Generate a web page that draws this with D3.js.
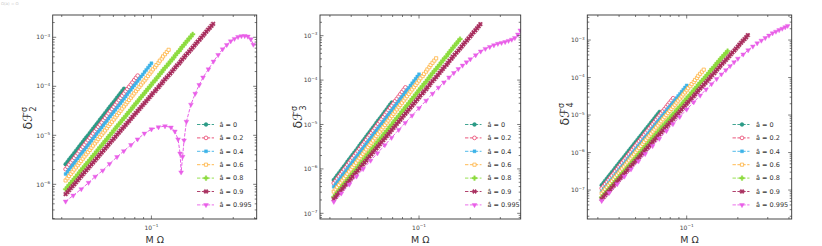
<!DOCTYPE html>
<html>
<head>
<meta charset="utf-8">
<script src="https://cdn.jsdelivr.net/npm/d3@7"></script>
<style>
  body { margin: 0; background: #fff; }
  svg { display: block; }
  text { font-family: "DejaVu Sans", sans-serif; }
</style>
</head>
<body>
<svg id="chart" width="822" height="246"></svg>
<script>
// spin values, one series per spin in every panel
const spinLabels = ["0", "0.2", "0.4", "0.6", "0.8", "0.9", "0.995"];

// M*Omega samples shared by the straight series (each uses the first n values)
const omegaGrid = [0.0316, 0.0324, 0.0331, 0.0339, 0.0347, 0.0355, 0.0363, 0.0372, 0.0380, 0.0389,
  0.0398, 0.0407, 0.0417, 0.0427, 0.0437, 0.0447, 0.0457, 0.0468, 0.0479, 0.0490,
  0.0501, 0.0513, 0.0525, 0.0537, 0.0550, 0.0562, 0.0575, 0.0589, 0.0603, 0.0617,
  0.0631, 0.0646, 0.0661, 0.0676, 0.0692, 0.0708, 0.0724, 0.0741, 0.0759, 0.0776,
  0.0794, 0.0813, 0.0832, 0.0851, 0.0871, 0.0891, 0.0912, 0.0933, 0.0955, 0.0977,
  0.100, 0.102, 0.105, 0.107, 0.110, 0.112, 0.115, 0.117, 0.120, 0.123,
  0.126, 0.129, 0.132, 0.135, 0.138, 0.141, 0.145, 0.148, 0.151, 0.155,
  0.158, 0.162, 0.166, 0.170, 0.174, 0.178, 0.182, 0.186, 0.191, 0.195,
  0.200, 0.204, 0.209, 0.214, 0.219, 0.224, 0.229];

// M*Omega samples of the a = 0.995 curves
const omega995 = [0.0316, 0.035, 0.039, 0.043, 0.047, 0.052, 0.057, 0.063, 0.069, 0.076, 0.083, 0.091,
  0.10, 0.11, 0.12, 0.13, 0.14, 0.15, 0.16, 0.17, 0.18, 0.19, 0.20, 0.215, 0.23, 0.245,
  0.26, 0.275, 0.29, 0.305, 0.32, 0.335, 0.35, 0.365, 0.38, 0.393];
const omega995F2 = [0.0316, 0.035, 0.039, 0.043, 0.047, 0.052, 0.057, 0.063, 0.069, 0.076, 0.083, 0.091,
  0.10, 0.11, 0.12, 0.13, 0.137, 0.143, 0.147, 0.149, 0.152, 0.155, 0.16, 0.17, 0.18, 0.19,
  0.20, 0.215, 0.23, 0.245, 0.26, 0.275, 0.29, 0.305, 0.32, 0.335, 0.35, 0.365, 0.38, 0.393];

// delta F_2^sigma
const dF2_a0 = [2.57e-6, 2.85e-6, 3.17e-6, 3.52e-6, 3.90e-6, 4.33e-6, 4.81e-6, 5.34e-6, 5.92e-6, 6.57e-6, 7.29e-6, 8.09e-6, 8.99e-6, 9.98e-6, 1.11e-5, 1.23e-5, 1.36e-5, 1.51e-5, 1.68e-5, 1.86e-5, 2.07e-5, 2.30e-5, 2.55e-5, 2.83e-5, 3.14e-5, 3.49e-5, 3.87e-5, 4.30e-5, 4.76e-5, 5.28e-5, 5.87e-5, 6.52e-5, 7.24e-5, 8.04e-5, 8.91e-5];
const dF2_a02 = [2.04e-6, 2.26e-6, 2.52e-6, 2.80e-6, 3.10e-6, 3.44e-6, 3.82e-6, 4.24e-6, 4.71e-6, 5.23e-6, 5.81e-6, 6.45e-6, 7.16e-6, 7.95e-6, 8.83e-6, 9.80e-6, 1.09e-5, 1.21e-5, 1.34e-5, 1.49e-5, 1.65e-5, 1.83e-5, 2.04e-5, 2.26e-5, 2.51e-5, 2.79e-5, 3.09e-5, 3.43e-5, 3.81e-5, 4.23e-5, 4.70e-5, 5.22e-5, 5.79e-5, 6.43e-5, 7.14e-5, 7.93e-5, 8.79e-5, 9.76e-5, 1.08e-4, 1.20e-4, 1.34e-4, 1.49e-4, 1.65e-4];
const dF2_a04 = [1.62e-6, 1.80e-6, 2.00e-6, 2.22e-6, 2.46e-6, 2.73e-6, 3.03e-6, 3.36e-6, 3.73e-6, 4.14e-6, 4.59e-6, 5.09e-6, 5.65e-6, 6.27e-6, 6.97e-6, 7.74e-6, 8.57e-6, 9.51e-6, 1.06e-5, 1.18e-5, 1.30e-5, 1.44e-5, 1.60e-5, 1.78e-5, 1.97e-5, 2.19e-5, 2.43e-5, 2.70e-5, 2.99e-5, 3.32e-5, 3.68e-5, 4.08e-5, 4.53e-5, 5.03e-5, 5.58e-5, 6.19e-5, 6.87e-5, 7.63e-5, 8.47e-5, 9.40e-5, 1.04e-4, 1.15e-4, 1.28e-4, 1.42e-4, 1.58e-4, 1.75e-4, 1.95e-4, 2.16e-4, 2.40e-4, 2.66e-4, 2.95e-4];
const dF2_a06 = [1.20e-6, 1.33e-6, 1.48e-6, 1.64e-6, 1.81e-6, 2.01e-6, 2.22e-6, 2.46e-6, 2.72e-6, 3.01e-6, 3.34e-6, 3.70e-6, 4.10e-6, 4.54e-6, 5.04e-6, 5.58e-6, 6.17e-6, 6.84e-6, 7.57e-6, 8.39e-6, 9.29e-6, 1.03e-5, 1.14e-5, 1.26e-5, 1.40e-5, 1.55e-5, 1.71e-5, 1.89e-5, 2.10e-5, 2.33e-5, 2.58e-5, 2.86e-5, 3.17e-5, 3.51e-5, 3.89e-5, 4.31e-5, 4.76e-5, 5.27e-5, 5.85e-5, 6.48e-5, 7.18e-5, 7.96e-5, 8.81e-5, 9.76e-5, 1.08e-4, 1.20e-4, 1.32e-4, 1.46e-4, 1.63e-4, 1.81e-4, 2.00e-4, 2.22e-4, 2.45e-4, 2.71e-4, 3.01e-4, 3.34e-4, 3.68e-4, 4.08e-4, 4.52e-4, 5.01e-4, 5.55e-4];
const dF2_a08 = [7.94e-7, 8.76e-7, 9.66e-7, 1.07e-6, 1.18e-6, 1.30e-6, 1.43e-6, 1.58e-6, 1.75e-6, 1.93e-6, 2.12e-6, 2.34e-6, 2.58e-6, 2.85e-6, 3.15e-6, 3.47e-6, 3.83e-6, 4.22e-6, 4.67e-6, 5.15e-6, 5.68e-6, 6.27e-6, 6.90e-6, 7.61e-6, 8.41e-6, 9.28e-6, 1.02e-5, 1.13e-5, 1.25e-5, 1.38e-5, 1.52e-5, 1.68e-5, 1.85e-5, 2.04e-5, 2.25e-5, 2.48e-5, 2.74e-5, 3.02e-5, 3.33e-5, 3.67e-5, 4.06e-5, 4.48e-5, 4.93e-5, 5.44e-5, 6.01e-5, 6.63e-5, 7.31e-5, 8.06e-5, 8.91e-5, 9.83e-5, 1.08e-4, 1.19e-4, 1.32e-4, 1.46e-4, 1.61e-4, 1.78e-4, 1.95e-4, 2.15e-4, 2.38e-4, 2.63e-4, 2.90e-4, 3.20e-4, 3.52e-4, 3.88e-4, 4.30e-4, 4.74e-4, 5.22e-4, 5.76e-4, 6.37e-4, 7.03e-4, 7.74e-4, 8.54e-4, 9.42e-4, 1.04e-3, 1.15e-3];
const dF2_a09 = [6.31e-7, 6.92e-7, 7.60e-7, 8.34e-7, 9.16e-7, 1.00e-6, 1.10e-6, 1.21e-6, 1.33e-6, 1.46e-6, 1.60e-6, 1.76e-6, 1.93e-6, 2.12e-6, 2.32e-6, 2.55e-6, 2.79e-6, 3.06e-6, 3.37e-6, 3.70e-6, 4.06e-6, 4.45e-6, 4.89e-6, 5.36e-6, 5.89e-6, 6.46e-6, 7.08e-6, 7.77e-6, 8.53e-6, 9.36e-6, 1.03e-5, 1.13e-5, 1.24e-5, 1.36e-5, 1.49e-5, 1.63e-5, 1.79e-5, 1.96e-5, 2.16e-5, 2.37e-5, 2.61e-5, 2.86e-5, 3.14e-5, 3.44e-5, 3.78e-5, 4.15e-5, 4.55e-5, 4.99e-5, 5.48e-5, 6.01e-5, 6.61e-5, 7.25e-5, 7.96e-5, 8.73e-5, 9.59e-5, 1.05e-4, 1.15e-4, 1.26e-4, 1.39e-4, 1.52e-4, 1.67e-4, 1.83e-4, 2.02e-4, 2.22e-4, 2.43e-4, 2.67e-4, 2.92e-4, 3.20e-4, 3.52e-4, 3.86e-4, 4.25e-4, 4.66e-4, 5.12e-4, 5.62e-4, 6.17e-4, 6.77e-4, 7.41e-4, 8.13e-4, 8.93e-4, 9.80e-4, 1.08e-3, 1.18e-3, 1.30e-3, 1.43e-3, 1.56e-3, 1.71e-3, 1.88e-3];
const dF2_a0995 = [4.47e-7, 5.92e-7, 8.0e-7, 1.08e-6, 1.44e-6, 1.91e-6, 2.62e-6, 3.62e-6, 4.78e-6, 6.38e-6, 8.30e-6, 1.09e-5, 1.33e-5, 1.47e-5, 1.54e-5, 1.45e-5, 1.20e-5, 8.3e-6, 4.27e-6, 1.76e-6, 3.66e-6, 7.9e-6, 1.9e-5, 4.24e-5, 7.08e-5, 1.07e-4, 1.52e-4, 2.23e-4, 3.21e-4, 4.38e-4, 5.71e-4, 7.0e-4, 8.32e-4, 9.33e-4, 1.02e-3, 1.06e-3, 1.07e-3, 1.04e-3, 9.16e-4, 7.10e-4];

// delta F_3^sigma
const dF3_a0 = [5.62e-7, 6.32e-7, 7.13e-7, 8.02e-7, 9.02e-7, 1.01e-6, 1.14e-6, 1.28e-6, 1.45e-6, 1.63e-6, 1.83e-6, 2.06e-6, 2.32e-6, 2.61e-6, 2.94e-6, 3.31e-6, 3.72e-6, 4.19e-6, 4.71e-6, 5.30e-6, 5.97e-6, 6.72e-6, 7.57e-6, 8.52e-6, 9.57e-6, 1.08e-5, 1.21e-5, 1.36e-5, 1.53e-5, 1.72e-5, 1.95e-5, 2.19e-5, 2.47e-5, 2.78e-5, 3.12e-5];
const dF3_a02 = [4.79e-7, 5.39e-7, 6.07e-7, 6.83e-7, 7.67e-7, 8.63e-7, 9.72e-7, 1.09e-6, 1.23e-6, 1.38e-6, 1.56e-6, 1.76e-6, 1.98e-6, 2.23e-6, 2.50e-6, 2.81e-6, 3.17e-6, 3.57e-6, 4.01e-6, 4.51e-6, 5.08e-6, 5.72e-6, 6.44e-6, 7.25e-6, 8.15e-6, 9.17e-6, 1.03e-5, 1.16e-5, 1.31e-5, 1.47e-5, 1.66e-5, 1.87e-5, 2.10e-5, 2.36e-5, 2.65e-5, 2.98e-5, 3.37e-5, 3.79e-5, 4.26e-5, 4.79e-5, 5.40e-5, 6.08e-5, 6.84e-5];
const dF3_a04 = [3.98e-7, 4.47e-7, 5.02e-7, 5.64e-7, 6.34e-7, 7.13e-7, 8.02e-7, 9.01e-7, 1.01e-6, 1.14e-6, 1.28e-6, 1.44e-6, 1.61e-6, 1.81e-6, 2.03e-6, 2.28e-6, 2.57e-6, 2.89e-6, 3.24e-6, 3.64e-6, 4.09e-6, 4.60e-6, 5.16e-6, 5.80e-6, 6.52e-6, 7.33e-6, 8.24e-6, 9.26e-6, 1.04e-5, 1.17e-5, 1.31e-5, 1.47e-5, 1.66e-5, 1.87e-5, 2.09e-5, 2.35e-5, 2.64e-5, 2.97e-5, 3.33e-5, 3.74e-5, 4.21e-5, 4.73e-5, 5.31e-5, 5.97e-5, 6.70e-5, 7.53e-5, 8.47e-5, 9.52e-5, 1.07e-4, 1.20e-4, 1.35e-4];
const dF3_a06 = [3.09e-7, 3.47e-7, 3.89e-7, 4.36e-7, 4.90e-7, 5.50e-7, 6.17e-7, 6.92e-7, 7.76e-7, 8.71e-7, 9.77e-7, 1.10e-6, 1.23e-6, 1.38e-6, 1.55e-6, 1.74e-6, 1.95e-6, 2.19e-6, 2.45e-6, 2.75e-6, 3.09e-6, 3.47e-6, 3.89e-6, 4.36e-6, 4.90e-6, 5.50e-6, 6.17e-6, 6.92e-6, 7.76e-6, 8.71e-6, 9.77e-6, 1.10e-5, 1.23e-5, 1.38e-5, 1.55e-5, 1.74e-5, 1.95e-5, 2.19e-5, 2.45e-5, 2.75e-5, 3.09e-5, 3.47e-5, 3.89e-5, 4.36e-5, 4.90e-5, 5.50e-5, 6.17e-5, 6.92e-5, 7.76e-5, 8.71e-5, 9.77e-5, 1.10e-4, 1.23e-4, 1.38e-4, 1.55e-4, 1.74e-4, 1.95e-4, 2.19e-4, 2.45e-4, 2.75e-4, 3.09e-4];
const dF3_a08 = [2.34e-7, 2.61e-7, 2.92e-7, 3.26e-7, 3.65e-7, 4.08e-7, 4.55e-7, 5.08e-7, 5.68e-7, 6.34e-7, 7.08e-7, 7.91e-7, 8.83e-7, 9.86e-7, 1.10e-6, 1.23e-6, 1.37e-6, 1.53e-6, 1.71e-6, 1.91e-6, 2.14e-6, 2.39e-6, 2.67e-6, 2.98e-6, 3.33e-6, 3.72e-6, 4.15e-6, 4.64e-6, 5.18e-6, 5.79e-6, 6.46e-6, 7.22e-6, 8.05e-6, 8.99e-6, 1.00e-5, 1.12e-5, 1.25e-5, 1.40e-5, 1.56e-5, 1.74e-5, 1.95e-5, 2.18e-5, 2.43e-5, 2.71e-5, 3.03e-5, 3.38e-5, 3.78e-5, 4.22e-5, 4.72e-5, 5.27e-5, 5.89e-5, 6.58e-5, 7.35e-5, 8.21e-5, 9.16e-5, 1.02e-4, 1.14e-4, 1.27e-4, 1.43e-4, 1.60e-4, 1.78e-4, 1.99e-4, 2.22e-4, 2.48e-4, 2.77e-4, 3.09e-4, 3.45e-4, 3.85e-4, 4.31e-4, 4.81e-4, 5.37e-4, 6.00e-4, 6.70e-4, 7.48e-4, 8.36e-4];
const dF3_a09 = [2.09e-7, 2.32e-7, 2.58e-7, 2.87e-7, 3.18e-7, 3.53e-7, 3.94e-7, 4.38e-7, 4.85e-7, 5.39e-7, 6.00e-7, 6.67e-7, 7.41e-7, 8.23e-7, 9.14e-7, 1.02e-6, 1.13e-6, 1.26e-6, 1.39e-6, 1.54e-6, 1.72e-6, 1.91e-6, 2.13e-6, 2.37e-6, 2.62e-6, 2.91e-6, 3.24e-6, 3.60e-6, 4.00e-6, 4.44e-6, 4.94e-6, 5.49e-6, 6.11e-6, 6.79e-6, 7.53e-6, 8.37e-6, 9.31e-6, 1.03e-5, 1.15e-5, 1.28e-5, 1.42e-5, 1.58e-5, 1.75e-5, 1.94e-5, 2.16e-5, 2.40e-5, 2.67e-5, 2.97e-5, 3.30e-5, 3.67e-5, 4.07e-5, 4.52e-5, 5.04e-5, 5.60e-5, 6.21e-5, 6.90e-5, 7.67e-5, 8.52e-5, 9.46e-5, 1.05e-4, 1.17e-4, 1.30e-4, 1.45e-4, 1.61e-4, 1.78e-4, 1.98e-4, 2.20e-4, 2.44e-4, 2.72e-4, 3.02e-4, 3.36e-4, 3.73e-4, 4.15e-4, 4.61e-4, 5.12e-4, 5.69e-4, 6.32e-4, 7.02e-4, 7.80e-4, 8.67e-4, 9.64e-4, 1.07e-3, 1.19e-3, 1.32e-3, 1.47e-3, 1.63e-3, 1.82e-3];
const dF3_a0995 = [1.82e-7, 2.81e-7, 4.48e-7, 6.79e-7, 1.00e-6, 1.54e-6, 2.26e-6, 3.44e-6, 5.06e-6, 7.59e-6, 1.09e-5, 1.59e-5, 2.34e-5, 3.45e-5, 4.94e-5, 6.78e-5, 8.89e-5, 1.15e-4, 1.45e-4, 1.78e-4, 2.13e-4, 2.53e-4, 2.95e-4, 3.64e-4, 4.43e-4, 5.07e-4, 5.60e-4, 6.12e-4, 6.59e-4, 6.90e-4, 7.23e-4, 7.67e-4, 8.17e-4, 8.93e-4, 1.07e-3, 1.32e-3];

// delta F_4^sigma
const dF4_a0 = [1.35e-7, 1.54e-7, 1.76e-7, 2.01e-7, 2.29e-7, 2.61e-7, 2.98e-7, 3.40e-7, 3.88e-7, 4.43e-7, 5.06e-7, 5.77e-7, 6.59e-7, 7.52e-7, 8.59e-7, 9.80e-7, 1.12e-6, 1.28e-6, 1.46e-6, 1.67e-6, 1.90e-6, 2.17e-6, 2.47e-6, 2.82e-6, 3.22e-6, 3.67e-6, 4.19e-6, 4.78e-6, 5.46e-6, 6.23e-6, 7.11e-6, 8.11e-6, 9.27e-6, 1.06e-5, 1.21e-5];
const dF4_a02 = [1.11e-7, 1.27e-7, 1.44e-7, 1.64e-7, 1.88e-7, 2.15e-7, 2.44e-7, 2.78e-7, 3.18e-7, 3.63e-7, 4.14e-7, 4.72e-7, 5.38e-7, 6.14e-7, 7.01e-7, 8.00e-7, 9.12e-7, 1.04e-6, 1.19e-6, 1.36e-6, 1.55e-6, 1.77e-6, 2.01e-6, 2.29e-6, 2.62e-6, 2.99e-6, 3.40e-6, 3.88e-6, 4.44e-6, 5.07e-6, 5.77e-6, 6.58e-6, 7.50e-6, 8.56e-6, 9.77e-6, 1.11e-5, 1.27e-5, 1.45e-5, 1.66e-5, 1.89e-5, 2.15e-5, 2.45e-5, 2.80e-5];
const dF4_a04 = [9.02e-8, 1.03e-7, 1.17e-7, 1.33e-7, 1.52e-7, 1.73e-7, 1.97e-7, 2.24e-7, 2.56e-7, 2.92e-7, 3.33e-7, 3.79e-7, 4.32e-7, 4.92e-7, 5.61e-7, 6.39e-7, 7.28e-7, 8.29e-7, 9.46e-7, 1.08e-6, 1.23e-6, 1.40e-6, 1.59e-6, 1.81e-6, 2.07e-6, 2.36e-6, 2.69e-6, 3.06e-6, 3.49e-6, 3.98e-6, 4.53e-6, 5.16e-6, 5.87e-6, 6.69e-6, 7.64e-6, 8.70e-6, 9.91e-6, 1.13e-5, 1.29e-5, 1.47e-5, 1.67e-5, 1.90e-5, 2.17e-5, 2.47e-5, 2.82e-5, 3.21e-5, 3.66e-5, 4.17e-5, 4.75e-5, 5.41e-5, 6.17e-5];
const dF4_a06 = [8.13e-8, 9.23e-8, 1.05e-7, 1.19e-7, 1.35e-7, 1.53e-7, 1.74e-7, 1.97e-7, 2.24e-7, 2.54e-7, 2.88e-7, 3.27e-7, 3.72e-7, 4.22e-7, 4.79e-7, 5.44e-7, 6.17e-7, 7.00e-7, 7.94e-7, 9.01e-7, 1.02e-6, 1.16e-6, 1.32e-6, 1.50e-6, 1.70e-6, 1.93e-6, 2.19e-6, 2.49e-6, 2.82e-6, 3.20e-6, 3.63e-6, 4.12e-6, 4.68e-6, 5.31e-6, 6.03e-6, 6.84e-6, 7.76e-6, 8.81e-6, 1.00e-5, 1.14e-5, 1.29e-5, 1.46e-5, 1.66e-5, 1.88e-5, 2.14e-5, 2.43e-5, 2.75e-5, 3.12e-5, 3.55e-5, 4.03e-5, 4.57e-5, 5.19e-5, 5.89e-5, 6.69e-5, 7.59e-5, 8.61e-5, 9.77e-5, 1.11e-4, 1.26e-4, 1.43e-4, 1.62e-4];
const dF4_a08 = [6.38e-8, 7.20e-8, 8.13e-8, 9.18e-8, 1.04e-7, 1.17e-7, 1.32e-7, 1.49e-7, 1.69e-7, 1.91e-7, 2.15e-7, 2.43e-7, 2.74e-7, 3.09e-7, 3.49e-7, 3.94e-7, 4.45e-7, 5.02e-7, 5.68e-7, 6.41e-7, 7.23e-7, 8.16e-7, 9.20e-7, 1.04e-6, 1.17e-6, 1.32e-6, 1.50e-6, 1.69e-6, 1.91e-6, 2.16e-6, 2.43e-6, 2.74e-6, 3.10e-6, 3.50e-6, 3.95e-6, 4.46e-6, 5.04e-6, 5.69e-6, 6.43e-6, 7.26e-6, 8.18e-6, 9.24e-6, 1.04e-5, 1.17e-5, 1.33e-5, 1.50e-5, 1.69e-5, 1.91e-5, 2.16e-5, 2.44e-5, 2.75e-5, 3.10e-5, 3.51e-5, 3.96e-5, 4.48e-5, 5.06e-5, 5.70e-5, 6.44e-5, 7.28e-5, 8.22e-5, 9.27e-5, 1.05e-4, 1.18e-4, 1.33e-4, 1.51e-4, 1.70e-4, 1.92e-4, 2.17e-4, 2.45e-4, 2.77e-4, 3.12e-4, 3.52e-4, 3.97e-4, 4.48e-4, 5.07e-4];
const dF4_a09 = [5.75e-8, 6.46e-8, 7.28e-8, 8.18e-8, 9.18e-8, 1.03e-7, 1.16e-7, 1.30e-7, 1.47e-7, 1.65e-7, 1.85e-7, 2.08e-7, 2.34e-7, 2.63e-7, 2.96e-7, 3.33e-7, 3.74e-7, 4.20e-7, 4.72e-7, 5.31e-7, 5.97e-7, 6.71e-7, 7.55e-7, 8.49e-7, 9.53e-7, 1.07e-6, 1.21e-6, 1.36e-6, 1.52e-6, 1.71e-6, 1.92e-6, 2.16e-6, 2.43e-6, 2.73e-6, 3.07e-6, 3.45e-6, 3.88e-6, 4.36e-6, 4.90e-6, 5.51e-6, 6.19e-6, 6.96e-6, 7.83e-6, 8.80e-6, 9.89e-6, 1.11e-5, 1.25e-5, 1.41e-5, 1.58e-5, 1.78e-5, 2.00e-5, 2.25e-5, 2.52e-5, 2.83e-5, 3.18e-5, 3.57e-5, 4.03e-5, 4.53e-5, 5.08e-5, 5.71e-5, 6.43e-5, 7.23e-5, 8.13e-5, 9.14e-5, 1.03e-4, 1.16e-4, 1.30e-4, 1.46e-4, 1.64e-4, 1.84e-4, 2.07e-4, 2.33e-4, 2.62e-4, 2.94e-4, 3.30e-4, 3.71e-4, 4.18e-4, 4.70e-4, 5.27e-4, 5.92e-4, 6.67e-4, 7.50e-4, 8.43e-4, 9.48e-4, 1.06e-3, 1.19e-3, 1.35e-3];
const dF4_a0995 = [5.13e-8, 8.43e-8, 1.43e-7, 2.30e-7, 3.57e-7, 5.86e-7, 9.20e-7, 1.50e-6, 2.35e-6, 3.78e-6, 5.77e-6, 8.97e-6, 1.41e-5, 2.20e-5, 3.32e-5, 4.82e-5, 6.71e-5, 9.16e-5, 1.22e-4, 1.58e-4, 2.02e-4, 2.57e-4, 3.19e-4, 4.15e-4, 5.36e-4, 6.75e-4, 8.22e-4, 9.70e-4, 1.14e-3, 1.32e-3, 1.52e-3, 1.68e-3, 1.85e-3, 2.02e-3, 2.21e-3, 2.40e-3];

// tick labels
const xTickValues = [0.1];
const yTicksF2 = [1e-3, 1e-4, 1e-5, 1e-6];
const yTicksF3 = [1e-3, 1e-4, 1e-5, 1e-6, 1e-7];
const yTicksF4 = [1e-3, 1e-4, 1e-5, 1e-6, 1e-7];

// styles
const colors = ["#2b9b86", "#e8436d", "#3db3e8", "#ffb340", "#8ddc3f", "#a82e5e", "#e95fe8"];
const markers = [
  { type: d3.symbolCircle, size: 12, open: false, rot: 0 },
  { type: d3.symbolCircle, size: 11, open: true, rot: 0 },
  { type: d3.symbolSquare, size: 9, open: false, rot: 0 },
  { type: d3.symbolSquare, size: 10, open: true, rot: 0 },
  { type: d3.symbolCross, size: 12, open: false, rot: 0 },
  { type: d3.symbolCross, size: 12, open: false, rot: 45 },
  { type: d3.symbolTriangle, size: 10, open: false, rot: 180 }
];

const panels = [
  { sub: "2", series: [dF2_a0, dF2_a02, dF2_a04, dF2_a06, dF2_a08, dF2_a09, dF2_a0995], om995: omega995F2,
    yTicks: yTicksF2, left: 52.7, right: 256.7, top: 15, bottom: 219,
    xDomain: [0.02657, 0.4111], yDomain: [1.96e-7, 2.85e-3],
    legLine: [197, 214], legMark: 206, legText: 219.5, ylx: 32, yly: 118 },
  { sub: "3", series: [dF3_a0, dF3_a02, dF3_a04, dF3_a06, dF3_a08, dF3_a09, dF3_a0995], om995: omega995,
    yTicks: yTicksF3, left: 320, right: 520.7, top: 15, bottom: 219,
    xDomain: [0.02624, 0.3950], yDomain: [7.45e-8, 2.92e-3],
    legLine: [465, 481.5], legMark: 474.5, legText: 487.5, ylx: 302, yly: 117 },
  { sub: "4", series: [dF4_a0, dF4_a02, dF4_a04, dF4_a06, dF4_a08, dF4_a09, dF4_a0995], om995: omega995,
    yTicks: yTicksF4, left: 587.3, right: 791.7, top: 15, bottom: 219,
    xDomain: [0.0260, 0.415], yDomain: [1.69e-8, 4.65e-3],
    legLine: [732.5, 749.5], legMark: 742, legText: 756, ylx: 569, yly: 114 }
];

const svg = d3.select("#chart");
const tickColor = "#444";
const isPow10 = v => Math.abs(Math.log10(v) - Math.round(Math.log10(v))) < 1e-6;

function powLabel(sel, v, size) {
  const e = Math.round(Math.log10(v));
  sel.append("tspan").text("10");
  sel.append("tspan").attr("font-size", size * 0.7).attr("dy", -size * 0.45).text("\u2212" + Math.abs(e));
}

// faint header text in the top-left corner
svg.append("text").attr("x", 1).attr("y", 5).attr("font-size", 4).attr("fill", "#c8c8c8").text("\u03A9(a) = \u03A9");

panels.forEach((p, pi) => {
  const x = d3.scaleLog().domain(p.xDomain).range([p.left, p.right]);
  const y = d3.scaleLog().domain(p.yDomain).range([p.bottom, p.top]);
  const g = svg.append("g");

  g.append("clipPath").attr("id", "clip" + pi)
    .append("rect").attr("x", p.left).attr("y", p.top)
    .attr("width", p.right - p.left).attr("height", p.bottom - p.top);

  const plot = g.append("g").attr("clip-path", `url(#clip${pi})`);

  const line = d3.line().x(d => x(d[0])).y(d => y(d[1]));

  p.series.forEach((vals, si) => {
    const om = si === 6 ? p.om995 : omegaGrid;
    const pts = vals.map((v, k) => [om[k], v]);
    plot.append("path")
      .attr("d", line(pts))
      .attr("fill", "none")
      .attr("stroke", colors[si])
      .attr("stroke-width", 1)
      .attr("stroke-dasharray", "3.4,1.5");
    const m = markers[si];
    const sym = d3.symbol().type(m.type).size(m.size);
    plot.append("g").selectAll("path")
      .data(pts)
      .enter()
      .append("path")
      .attr("d", sym)
      .attr("transform", d => `translate(${x(d[0])},${y(d[1])}) rotate(${m.rot})`)
      .attr("fill", m.open ? "#fff" : colors[si])
      .attr("stroke", colors[si])
      .attr("stroke-width", m.open ? 0.8 : 0.4);
  });

  // ticks, inward on all four sides
  const ticks = g.append("g").attr("stroke", tickColor).attr("stroke-width", 0.7);
  x.ticks().forEach(t => {
    const len = isPow10(t) ? 3.5 : 2;
    const xx = x(t);
    ticks.append("line").attr("x1", xx).attr("x2", xx).attr("y1", p.bottom).attr("y2", p.bottom - len);
    ticks.append("line").attr("x1", xx).attr("x2", xx).attr("y1", p.top).attr("y2", p.top + len);
  });
  y.ticks().forEach(t => {
    const len = isPow10(t) ? 3.5 : 2;
    const yy = y(t);
    ticks.append("line").attr("y1", yy).attr("y2", yy).attr("x1", p.left).attr("x2", p.left + len);
    ticks.append("line").attr("y1", yy).attr("y2", yy).attr("x1", p.right).attr("x2", p.right - len);
  });

  g.append("rect")
    .attr("x", p.left).attr("y", p.top)
    .attr("width", p.right - p.left).attr("height", p.bottom - p.top)
    .attr("fill", "none").attr("stroke", "#333").attr("stroke-width", 0.9);

  // tick labels
  xTickValues.forEach(t => {
    const lab = g.append("text").attr("x", x(t)).attr("y", 229.5)
      .attr("text-anchor", "middle").attr("font-size", 6).attr("fill", tickColor);
    powLabel(lab, t, 6);
  });
  p.yTicks.forEach(t => {
    const lab = g.append("text").attr("x", p.left - 2.5).attr("y", y(t) + 2.2)
      .attr("text-anchor", "end").attr("font-size", 6).attr("fill", tickColor);
    powLabel(lab, t, 6);
  });

  // axis labels
  g.append("text")
    .attr("x", (p.left + p.right) / 2).attr("y", 242.5)
    .attr("text-anchor", "middle").attr("font-size", 9.5).attr("fill", "#333")
    .text("M \u03A9");

  const yl = g.append("text")
    .attr("transform", `translate(${p.ylx},${p.yly}) rotate(-90)`)
    .attr("text-anchor", "middle").attr("font-size", 12.5).attr("fill", "#333");
  yl.append("tspan").text("\u03B4\u2131");
  yl.append("tspan").attr("font-size", 8).attr("dy", -5).text("\u03C3");
  yl.append("tspan").attr("font-size", 8).attr("dx", -4.6).attr("dy", 8.5).text(p.sub);

  // legend
  const leg = g.append("g");
  spinLabels.forEach((s, si) => {
    const ly = 124.5 + si * 13.4;
    leg.append("line")
      .attr("x1", p.legLine[0]).attr("x2", p.legLine[1]).attr("y1", ly).attr("y2", ly)
      .attr("stroke", colors[si]).attr("stroke-width", 0.9).attr("stroke-dasharray", "3.4,1.5");
    const m = markers[si];
    leg.append("path")
      .attr("d", d3.symbol().type(m.type).size(m.size)())
      .attr("transform", `translate(${p.legMark},${ly}) rotate(${m.rot})`)
      .attr("fill", m.open ? "#fff" : colors[si])
      .attr("stroke", colors[si]).attr("stroke-width", m.open ? 0.8 : 0.4);
    leg.append("text")
      .attr("x", p.legText).attr("y", ly + 2.3)
      .attr("font-size", 6.5).attr("fill", "#333")
      .text("\u00E2 = " + s);
  });
});
</script>
</body>
</html>
